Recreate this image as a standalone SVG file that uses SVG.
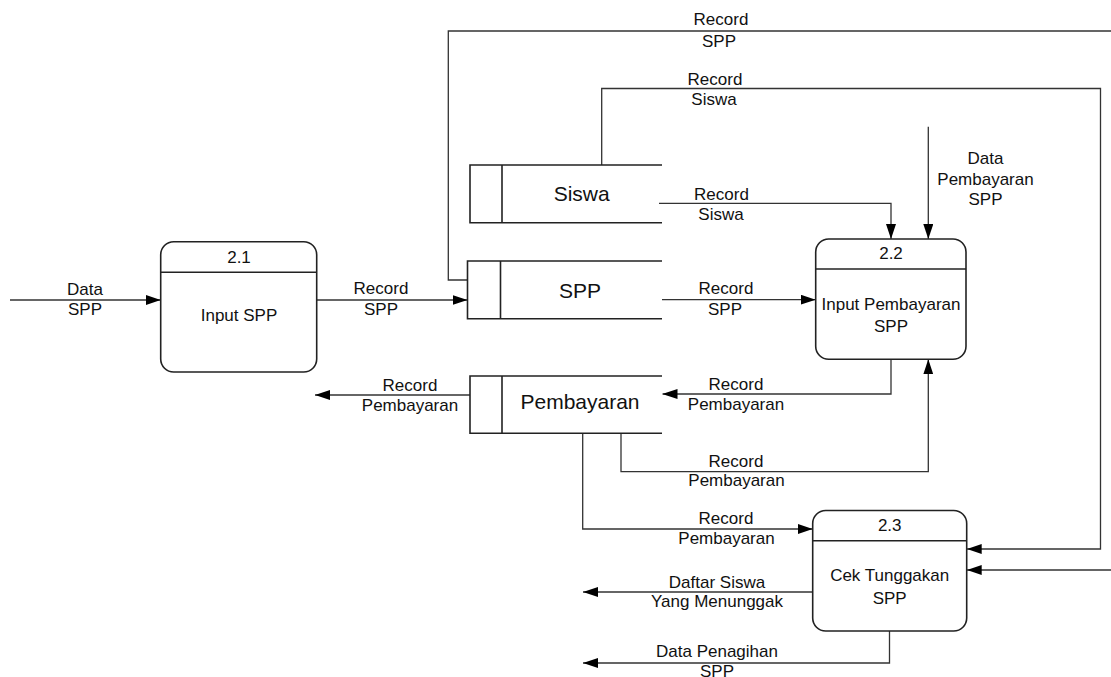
<svg xmlns="http://www.w3.org/2000/svg" width="1111" height="677" viewBox="0 0 1111 677">
  <style>
    .proc { fill: #fff; stroke: #222; stroke-width: 1.6; }
    .shape { fill: none; stroke: #222; stroke-width: 1.6; }
    .flow { fill: none; stroke: #333; stroke-width: 1.3; }
    .lbl { font-family: "Liberation Sans", Arial, sans-serif; font-size: 17px; fill: #111; text-anchor: middle; }
    .store { font-family: "Liberation Sans", Arial, sans-serif; font-size: 21px; fill: #111; text-anchor: middle; }
  </style>
  <defs>
    <marker id="arrow" markerUnits="userSpaceOnUse" markerWidth="15" markerHeight="10" refX="15" refY="5" orient="auto">
      <path d="M0,0 L15,5 L0,10 z" fill="#000"/>
    </marker>
  </defs>
  <rect width="1111" height="677" fill="#fff"/>

  <!-- data flows -->
  <g id="connectors">
    <path class="flow" d="M10,300 H160.7" marker-end="url(#arrow)"/>
    <path class="flow" d="M316.7,300 H467.5" marker-end="url(#arrow)"/>
    <path class="flow" d="M467.5,280 H448.3 V31 H1120 V570 H966.7" marker-end="url(#arrow)"/>
    <path class="flow" d="M601.7,165 V88.5 H1100.5 V549 H966.7" marker-end="url(#arrow)"/>
    <path class="flow" d="M659,203.3 H891 V239" marker-end="url(#arrow)"/>
    <path class="flow" d="M662,299.7 H815.7" marker-end="url(#arrow)"/>
    <path class="flow" d="M928.3,126.7 V239" marker-end="url(#arrow)"/>
    <path class="flow" d="M891,359.3 V394 H662.5" marker-end="url(#arrow)"/>
    <path class="flow" d="M470,395 H315" marker-end="url(#arrow)"/>
    <path class="flow" d="M621,433.3 V471.7 H928.3 V359.3" marker-end="url(#arrow)"/>
    <path class="flow" d="M582.7,433.3 V529 H812.7" marker-end="url(#arrow)"/>
    <path class="flow" d="M812.7,592 H583" marker-end="url(#arrow)"/>
    <path class="flow" d="M889.5,631 V663 H583" marker-end="url(#arrow)"/>

    <!-- flow labels -->
    <text class="lbl" x="85" y="295">Data</text>
    <text class="lbl" x="85" y="315">SPP</text>
    <text class="lbl" x="381" y="294">Record</text>
    <text class="lbl" x="381" y="315">SPP</text>
    <text class="lbl" x="721" y="25">Record</text>
    <text class="lbl" x="719" y="46.5">SPP</text>
    <text class="lbl" x="715" y="85">Record</text>
    <text class="lbl" x="714" y="105">Siswa</text>
    <text class="lbl" x="721.5" y="200">Record</text>
    <text class="lbl" x="721" y="220">Siswa</text>
    <text class="lbl" x="726" y="294">Record</text>
    <text class="lbl" x="725" y="315">SPP</text>
    <text class="lbl" x="985.5" y="164">Data</text>
    <text class="lbl" x="985.5" y="184.5">Pembayaran</text>
    <text class="lbl" x="985.5" y="205">SPP</text>
    <text class="lbl" x="736" y="390">Record</text>
    <text class="lbl" x="736" y="409.5">Pembayaran</text>
    <text class="lbl" x="410" y="391">Record</text>
    <text class="lbl" x="410" y="411">Pembayaran</text>
    <text class="lbl" x="736" y="466.7">Record</text>
    <text class="lbl" x="736.5" y="486">Pembayaran</text>
    <text class="lbl" x="726" y="524.3">Record</text>
    <text class="lbl" x="726.5" y="543.5">Pembayaran</text>
    <text class="lbl" x="717" y="587.7">Daftar Siswa</text>
    <text class="lbl" x="717" y="606.5">Yang Menunggak</text>
    <text class="lbl" x="717" y="656.5">Data Penagihan</text>
    <text class="lbl" x="717" y="676.5">SPP</text>
  </g>

  <!-- process 2.1 -->
  <g id="p21">
    <rect class="proc" x="160.7" y="241.7" width="156" height="130.3" rx="13"/>
    <line class="shape" x1="160.7" y1="272.3" x2="316.7" y2="272.3"/>
    <text class="lbl" x="239" y="263">2.1</text>
    <text class="lbl" x="239" y="321.3">Input SPP</text>
  </g>

  <!-- process 2.2 -->
  <g id="p22">
    <rect class="proc" x="815.7" y="239" width="150.3" height="120.3" rx="13"/>
    <line class="shape" x1="815.7" y1="269" x2="966" y2="269"/>
    <text class="lbl" x="891" y="259">2.2</text>
    <text class="lbl" x="891" y="310">Input Pembayaran</text>
    <text class="lbl" x="891" y="331.5">SPP</text>
  </g>

  <!-- process 2.3 -->
  <g id="p23">
    <rect class="proc" x="812.7" y="510.5" width="154" height="120.5" rx="13"/>
    <line class="shape" x1="812.7" y1="540.7" x2="966.7" y2="540.7"/>
    <text class="lbl" x="889.7" y="531">2.3</text>
    <text class="lbl" x="889.7" y="581">Cek Tunggakan</text>
    <text class="lbl" x="889.7" y="603.5">SPP</text>
  </g>

  <!-- data store: Siswa -->
  <g id="ds-siswa">
    <path class="shape" d="M662,165 H470 V222.7 H662 M502,165 V222.7"/>
    <text class="store" x="581.7" y="200.5">Siswa</text>
  </g>

  <!-- data store: SPP -->
  <g id="ds-spp">
    <path class="shape" d="M662,261 H467.5 V318.7 H662 M500.5,261 V318.7"/>
    <text class="store" x="580" y="297.5">SPP</text>
  </g>

  <!-- data store: Pembayaran -->
  <g id="ds-pembayaran">
    <path class="shape" d="M662,376 H470 V433.3 H662 M502,376 V433.3"/>
    <text class="store" x="580" y="409">Pembayaran</text>
  </g>
</svg>
